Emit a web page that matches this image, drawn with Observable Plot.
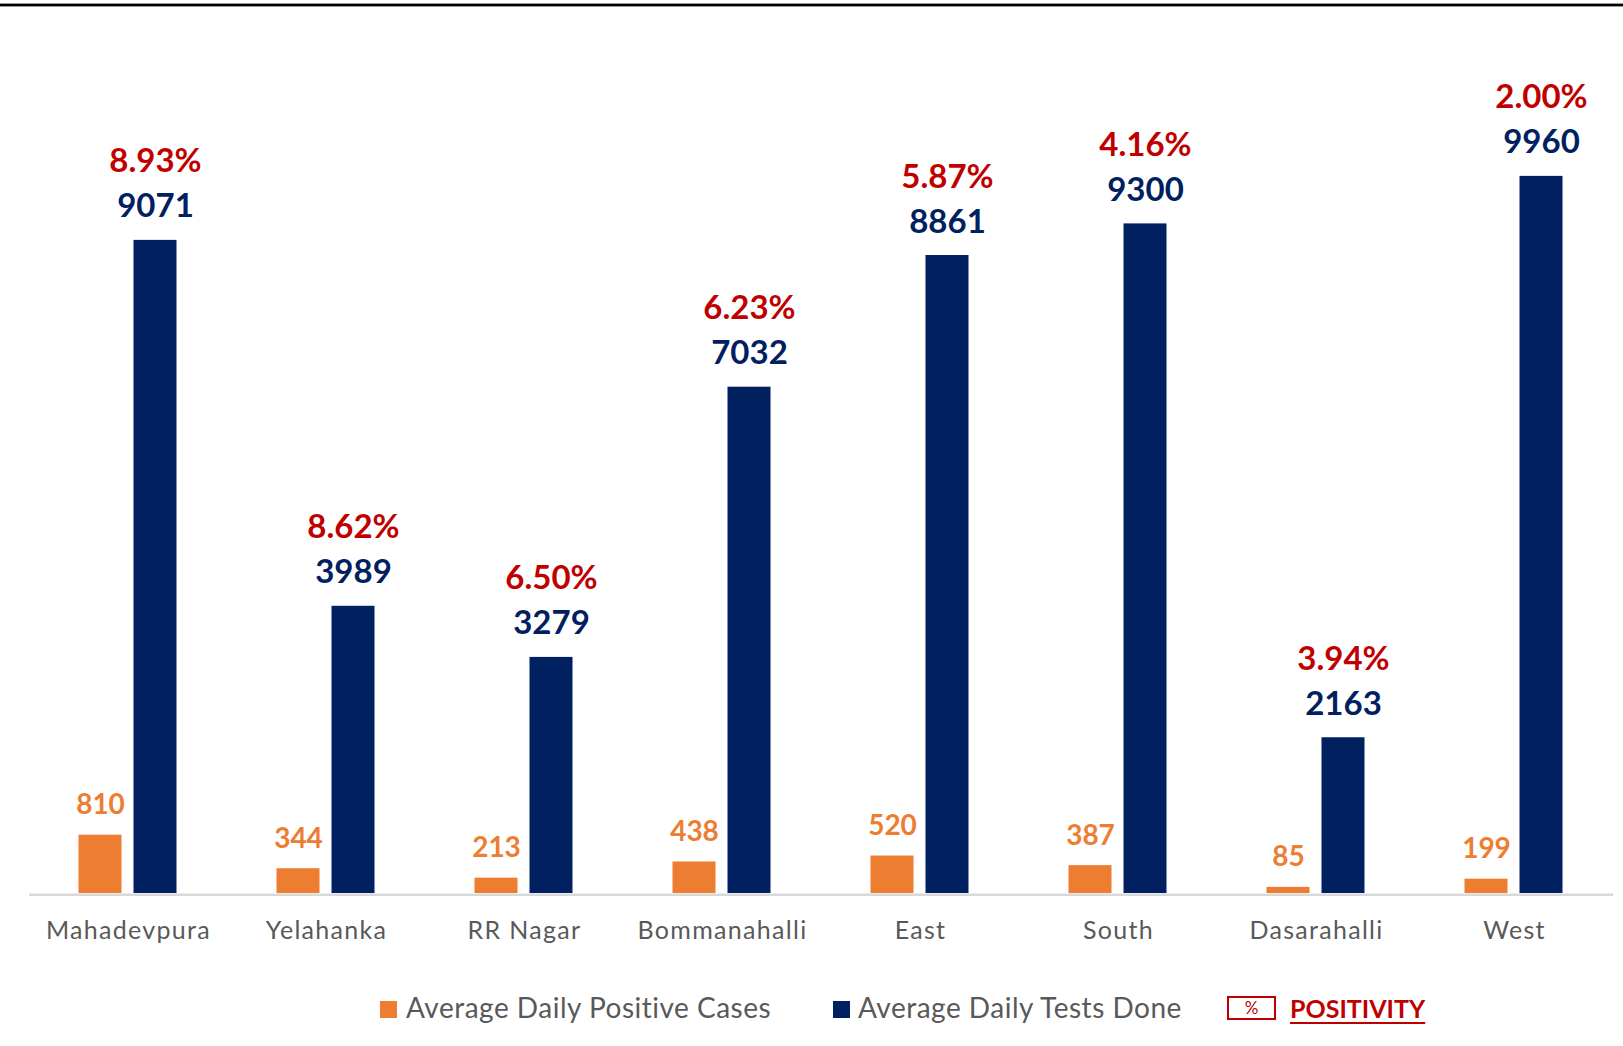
<!DOCTYPE html>
<html>
<head>
<meta charset="utf-8">
<script src="https://cdn.jsdelivr.net/npm/d3@7"></script>
<script src="https://cdn.jsdelivr.net/npm/@observablehq/plot@0.6"></script>
<style>
  html, body { margin: 0; padding: 0; background: #fff; }
  #wrap { position: relative; width: 1623px; height: 1046px; overflow: hidden; font-family: "Lato", "Open Sans", sans-serif; }
  #rule { position: absolute; left: 0; top: 3px; width: 1623px; height: 4px; box-sizing: border-box; background: #000; border-top: 1px solid #9a9a9a; border-bottom: 1px solid #9a9a9a; }
  #chart { position: absolute; left: 0; top: 0; }
  #chart g[aria-label="fx-axis tick label"] text { letter-spacing: 1.3px; }
  .lg { position: absolute; line-height: 1; white-space: nowrap; }
  .sw { position: absolute; width: 17px; height: 17px; }
</style>
</head>
<body>
<div id="wrap">
  <div id="chart"></div>
  <div id="rule"></div>
  <div class="sw" style="left:380px; top:1001px; background:#ED7D31"></div>
  <div class="lg" style="left:406px; top:993px; font-size:28px; letter-spacing:0.5px; color:#595959">Average Daily Positive Cases</div>
  <div class="sw" style="left:833px; top:1001px; background:#002060"></div>
  <div class="lg" style="left:858px; top:993px; font-size:28px; letter-spacing:0.5px; color:#595959">Average Daily Tests Done</div>
  <div class="lg" style="left:1227px; top:996px; width:49px; height:24px; box-sizing:border-box; border:2px solid #C00000; color:#C00000; font-size:17px; text-align:center; line-height:20px">%</div>
  <div class="lg" style="left:1290px; top:996px; font-size:25px; font-weight:bold; color:#C00000; text-decoration:underline; text-decoration-thickness:2px; text-underline-offset:4px">POSITIVITY</div>
</div>
<script>
const districts = ["Mahadevpura", "Yelahanka", "RR Nagar", "Bommanahalli", "East", "South", "Dasarahalli", "West"];
const seriesNames = ["Average Daily Positive Cases", "Average Daily Tests Done"];
const positiveCases = [810, 344, 213, 438, 520, 387, 85, 199];
const testsDone = [9071, 3989, 3279, 7032, 8861, 9300, 2163, 9960];
const positivity = ["8.93%", "8.62%", "6.50%", "6.23%", "5.87%", "4.16%", "3.94%", "2.00%"];
const colors = ["#ED7D31", "#002060"];

const rows = districts.flatMap((d, i) => [
  {district: d, series: seriesNames[0], value: positiveCases[i]},
  {district: d, series: seriesNames[1], value: testsDone[i], pct: positivity[i]}
]);
const posRows = rows.filter(r => r.series === seriesNames[0]);
const testRows = rows.filter(r => r.series === seriesNames[1]);

const chart = Plot.plot({
  width: 1623,
  height: 950,
  marginTop: 173,
  marginBottom: 57,
  marginLeft: 27.5,
  marginRight: 8,
  style: {fontFamily: "Lato, 'Open Sans', sans-serif", color: "#595959", background: "transparent"},
  fx: {domain: districts, padding: 0, label: null},
  x: {domain: seriesNames, axis: null, paddingInner: 0.215, paddingOuter: 0.897},
  y: {domain: [0, 10000], axis: null},
  color: {domain: seriesNames, range: colors},
  marks: [
    Plot.barY(rows, {fx: "district", x: "series", y: "value", fill: "series"}),
    Plot.ruleY([0], {stroke: "#d9d9d9", strokeWidth: 2.5, dy: 1.2}),
    Plot.axisFx({anchor: "bottom", tickSize: 0, tickPadding: 28, fontSize: 25, label: null}),
    Plot.text(posRows, {fx: "district", x: "series", y: "value", text: d => String(d.value), dy: -21, lineAnchor: "bottom", fill: colors[0], fontSize: 28, fontWeight: "bold"}),
    Plot.text(testRows, {fx: "district", x: "series", y: "value", text: d => String(d.value), dy: -23, lineAnchor: "bottom", fill: colors[1], fontSize: 33, fontWeight: "bold"}),
    Plot.text(testRows, {fx: "district", x: "series", y: "value", text: "pct", dy: -68, lineAnchor: "bottom", fill: "#C00000", fontSize: 33, fontWeight: "bold"})
  ]
});
document.getElementById("chart").appendChild(chart);
</script>
</body>
</html>
